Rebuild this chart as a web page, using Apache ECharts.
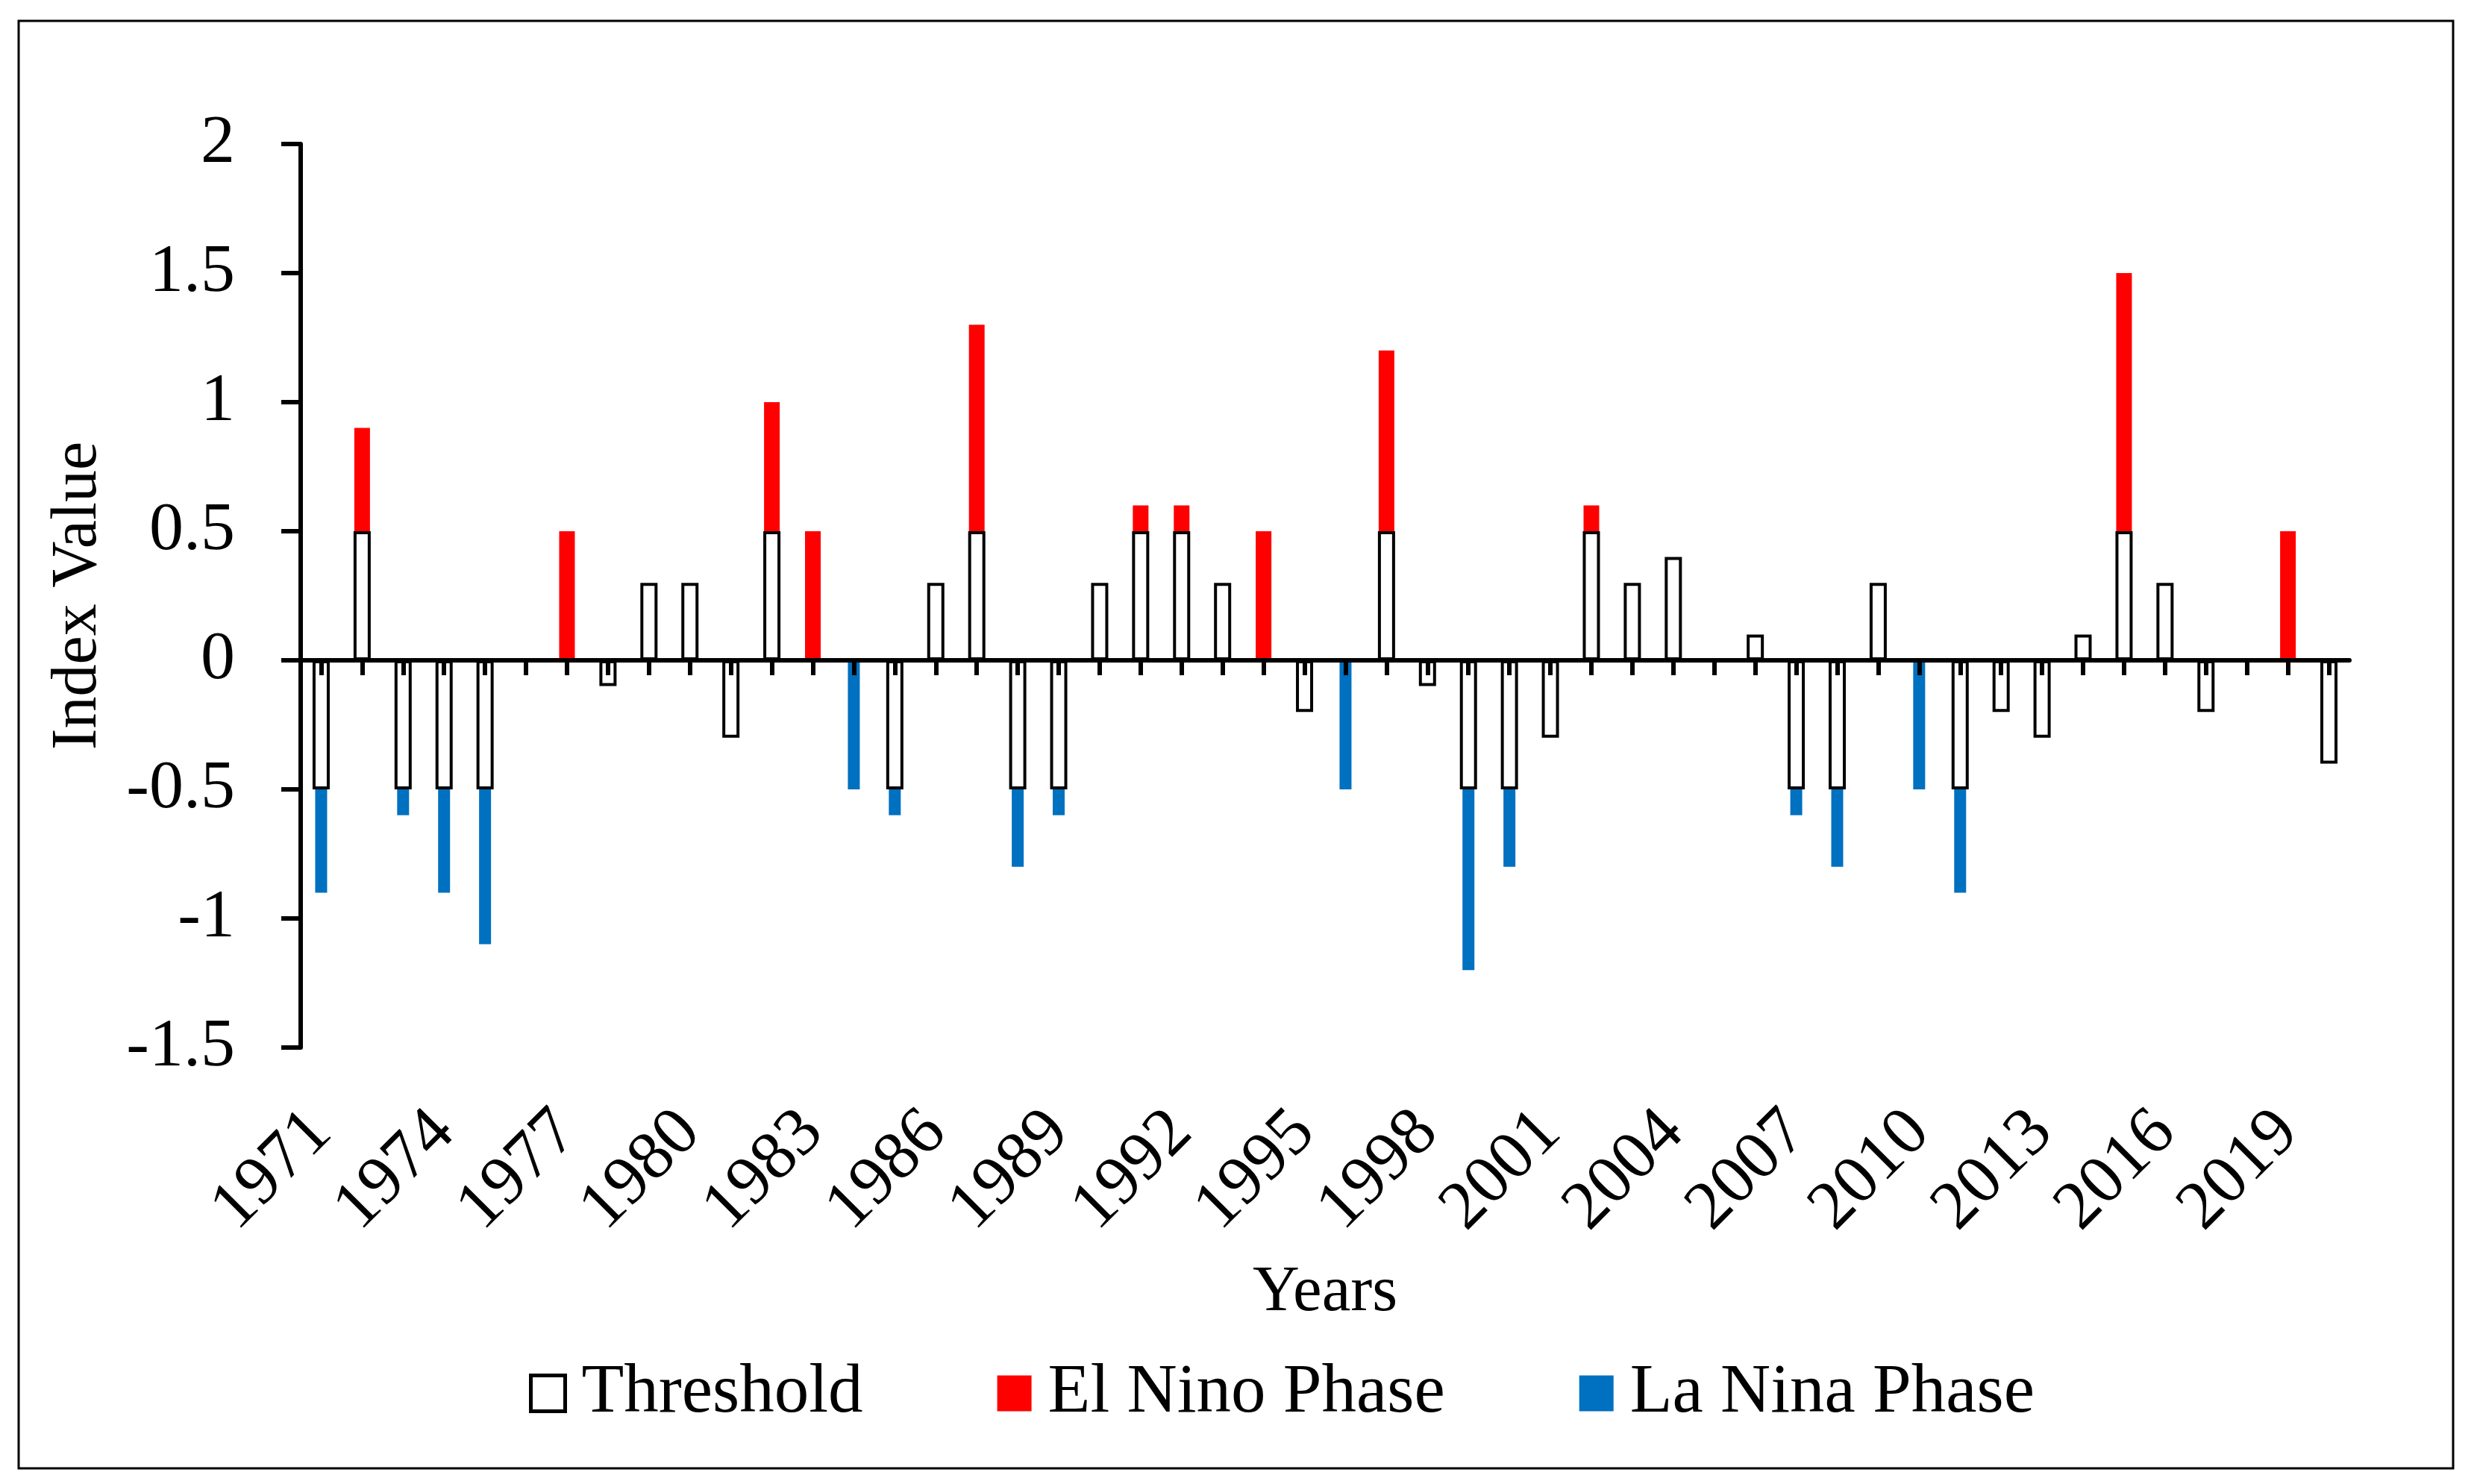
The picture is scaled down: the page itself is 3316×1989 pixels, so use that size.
<!DOCTYPE html>
<html><head><meta charset="utf-8">
<style>html,body{margin:0;padding:0;background:#fff}#c{width:3316px;height:1989px}</style>
<script src="https://cdn.jsdelivr.net/npm/echarts@6/dist/echarts.min.js"></script>
</head><body><div id="c"></div>
<script>
const years = ['1971','1972','1973','1974','1975','1976','1977','1978','1979','1980',
  '1981','1982','1983','1984','1985','1986','1987','1988','1989','1990',
  '1991','1992','1993','1994','1995','1996','1997','1998','1999','2000',
  '2001','2002','2003','2004','2005','2006','2007','2008','2009','2010',
  '2011','2012','2013','2014','2015','2016','2017','2018','2019','2020'];
const threshold = [-0.5, 0.5, -0.5, -0.5, -0.5, 0, 0, -0.1, 0.3, 0.3,
  -0.3, 0.5, 0, 0, -0.5, 0.3, 0.5, -0.5, -0.5, 0.3,
  0.5, 0.5, 0.3, 0, -0.2, 0, 0.5, -0.1, -0.5, -0.5,
  -0.3, 0.5, 0.3, 0.4, 0, 0.1, -0.5, -0.5, 0.3, 0,
  -0.5, -0.2, -0.3, 0.1, 0.5, 0.3, -0.2, 0, 0, -0.4];
const elNino = [0, 0.4, 0, 0, 0, 0, 0.5, 0, 0, 0,
  0, 0.5, 0.5, 0, 0, 0, 0.8, 0, 0, 0,
  0.1, 0.1, 0, 0.5, 0, 0, 0.7, 0, 0, 0,
  0, 0.1, 0, 0, 0, 0, 0, 0, 0, 0,
  0, 0, 0, 0, 1.0, 0, 0, 0, 0.5, 0];
const laNina = [-0.4, 0, -0.1, -0.4, -0.6, 0, 0, 0, 0, 0,
  0, 0, 0, -0.5, -0.1, 0, 0, -0.3, -0.1, 0,
  0, 0, 0, 0, 0, -0.5, 0, 0, -0.7, -0.3,
  0, 0, 0, 0, 0, 0, -0.1, -0.3, 0, -0.5,
  -0.4, 0, 0, 0, 0, 0, 0, 0, 0, 0];
const yTicks = {min: -1.5, max: 2, interval: 0.5};

const FONT = 'Liberation Serif';
const nz = a => a.map(v => v === 0 ? '-' : v);
const hiddenX = () => ({type:'category', data: years, show:false, gridIndex:0});

const chart = echarts.init(document.getElementById('c'), null, {renderer:'canvas'});
chart.setOption({
  animation: false,
  backgroundColor: '#fff',
  textStyle: {fontFamily: FONT, color: '#000'},
  graphic: [{type:'rect', shape:{x:25, y:28, width:3263, height:1940},
    style:{fill:'none', stroke:'#000', lineWidth:3}, z:-1, silent:true}],
  grid: {left:403, right:167, top:193, bottom:585, containLabel:false},
  legend: {
    left: 704, top: 1816, itemWidth: 46, itemHeight: 48, itemGap: 180,
    textStyle: {fontFamily: FONT, fontSize: 93, color:'#000', padding:[0,0,0,17]},
    data: [
      {name:'Threshold', icon:'rect', itemStyle:{color:'#fff', borderColor:'#000', borderWidth:5}},
      {name:'El Nino Phase', icon:'rect'},
      {name:'La Nina Phase', icon:'rect'}
    ]
  },
  xAxis: [
    {type:'category', data: years, z:10,
     axisLine:{show:true, onZero:true, lineStyle:{color:'#000', width:6}},
     axisTick:{show:true, alignWithLabel:true, interval:0, length:20, lineStyle:{color:'#000', width:6}},
     axisLabel:{show:false}, splitLine:{show:false}},
    hiddenX(),
    hiddenX(),
    {type:'category', data: years, position:'bottom',
     axisLine:{show:false, onZero:false}, axisTick:{show:false}, splitLine:{show:false},
     axisLabel:{show:true, interval:2, rotate:45, margin:100, fontSize:92, fontFamily:FONT, color:'#000', hideOverlap:false},
     name:'Years', nameLocation:'middle', nameGap:286, nameMoveOverlap:false,
     nameTextStyle:{fontFamily:FONT, fontSize:87, color:'#000'}}
  ],
  yAxis: {type:'value', min: yTicks.min, max: yTicks.max, interval: yTicks.interval, z:10,
    axisLine:{show:true, lineStyle:{color:'#000', width:6}},
    axisTick:{show:true, length:26, lineStyle:{color:'#000', width:6}},
    splitLine:{show:false},
    axisLabel:{fontSize:92, fontFamily:FONT, color:'#000', margin:88},
    name:'Index Value', nameLocation:'middle', nameGap:255, nameRotate:90, nameMoveOverlap:false,
    nameTextStyle:{fontFamily:FONT, fontSize:86, color:'#000'}},
  series: [
    {type:'bar', xAxisIndex:1, stack:'en', barWidth:21, data: threshold,
     itemStyle:{color:'rgba(0,0,0,0)'}, silent:true, legendHoverLink:false},
    {name:'El Nino Phase', type:'bar', xAxisIndex:1, stack:'en', barWidth:21, data: nz(elNino),
     itemStyle:{color:'#FF0000'}, z:2},
    {type:'bar', xAxisIndex:2, stack:'ln', barWidth:16, data: threshold,
     itemStyle:{color:'rgba(0,0,0,0)'}, silent:true, legendHoverLink:false},
    {name:'La Nina Phase', type:'bar', xAxisIndex:2, stack:'ln', barWidth:16, data: nz(laNina),
     itemStyle:{color:'#0070C0'}, z:2},
    {name:'Threshold', type:'bar', xAxisIndex:0, barWidth:23, data: threshold,
     itemStyle:{color:'#fff', borderColor:'#000', borderWidth:4}, z:3}
  ]
});
</script></body></html>
